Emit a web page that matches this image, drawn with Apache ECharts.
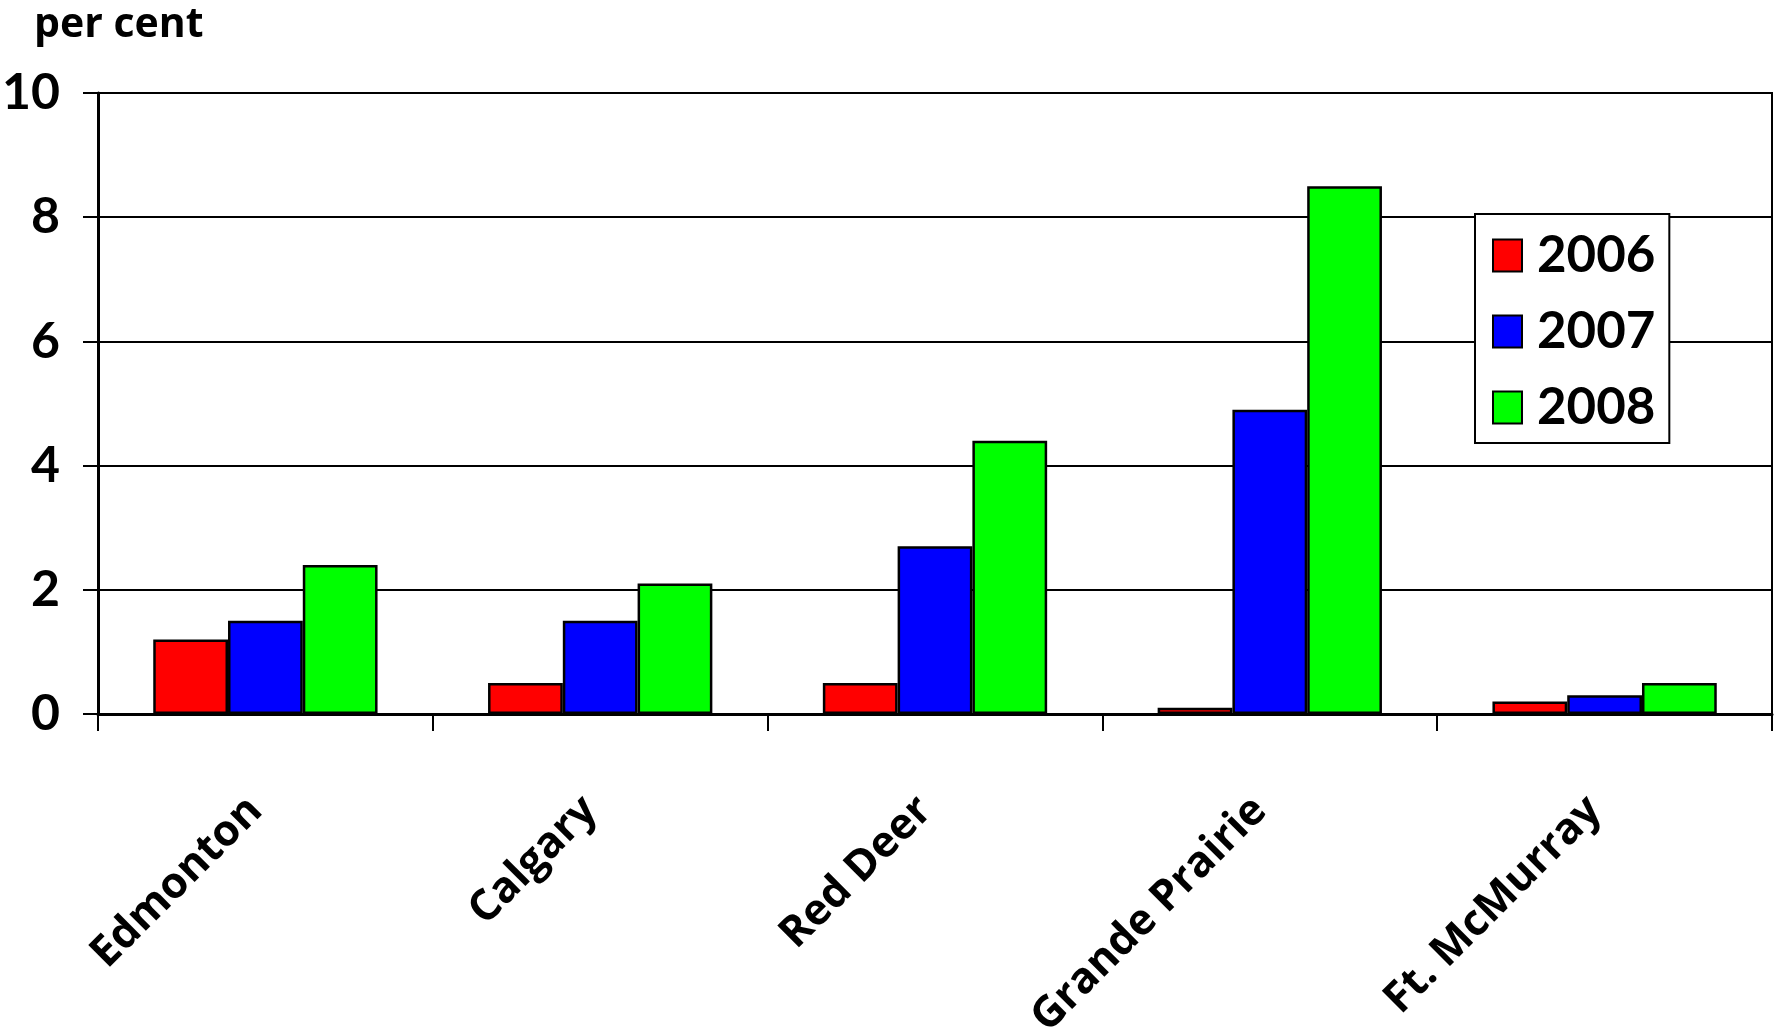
<!DOCTYPE html>
<html><head><meta charset="utf-8">
<script src="https://cdn.jsdelivr.net/npm/echarts@6/dist/echarts.min.js"></script>
<style>html,body{margin:0;padding:0;background:#fff}#c{width:1777px;height:1028px}</style>
</head><body><div id="c"></div>
<script>
const categories = ['Edmonton', 'Calgary', 'Red Deer', 'Grande Prairie', 'Ft. McMurray'];
const years = ['2006', '2007', '2008'];
const values2006 = [1.2, 0.5, 0.5, 0.1, 0.2];
const values2007 = [1.5, 1.5, 2.7, 4.9, 0.3];
const values2008 = [2.4, 2.1, 4.4, 8.5, 0.5];
const yTicks = [0, 2, 4, 6, 8, 10];
const colors = ['#ff0000', '#0000ff', '#00ff00'];
const seriesValues = [values2006, values2007, values2008];

const numFont = "Lato, sans-serif";
const chart = echarts.init(document.getElementById('c'));
chart.setOption({
  animation: false,
  backgroundColor: '#fff',
  title: {
    text: 'per cent', left: 29, top: 0,
    textStyle: { fontFamily: 'Open Sans', fontWeight: 'bold', fontSize: 41, color: '#000' }
  },
  grid: { left: 98, right: 5, top: 93, bottom: 314, outerBoundsMode: 'none', containLabel: false,
          show: true, borderColor: '#000', borderWidth: 2 },
  legend: {
    orient: 'vertical', left: 1475, top: 214,
    data: years,
    backgroundColor: '#fff', borderColor: '#000', borderWidth: 2,
    padding: [16, 14, 10, 17],
    itemWidth: 29, itemHeight: 32, itemGap: 25,
    icon: 'rect',
    itemStyle: { borderColor: '#000', borderWidth: 2 },
    textStyle: { fontFamily: numFont, fontWeight: 'bold', fontSize: 51, color: '#000', padding: [0, 0, 0, 10] }
  },
  xAxis: {
    type: 'category', data: categories,
    axisLine: { lineStyle: { color: '#000', width: 3 } },
    axisTick: { show: true, length: 17, interval: 0, lineStyle: { color: '#000', width: 2 } },
    axisLabel: { rotate: 45, margin: 80, interval: 0, padding: [0, 14, 0, 0],
                 fontFamily: 'Open Sans', fontWeight: 'bold', fontSize: 43, color: '#000' }
  },
  yAxis: {
    type: 'value', min: yTicks[0], max: yTicks[yTicks.length - 1], interval: 2,
    axisLine: { show: true, lineStyle: { color: '#000', width: 3 } },
    axisTick: { show: true, length: 15, lineStyle: { color: '#000', width: 2 } },
    splitLine: { show: true, lineStyle: { color: '#000', width: 2 } },
    axisLabel: { margin: 38, fontFamily: numFont, fontWeight: 'bold', fontSize: 50, color: '#000' }
  },
  series: years.map((y, i) => ({
    name: y, type: 'bar', data: seriesValues[i],
    barGap: '0%', barCategoryGap: '33%',
    itemStyle: { color: colors[i], borderColor: '#000', borderWidth: 2.5 }
  }))
});
</script></body></html>
